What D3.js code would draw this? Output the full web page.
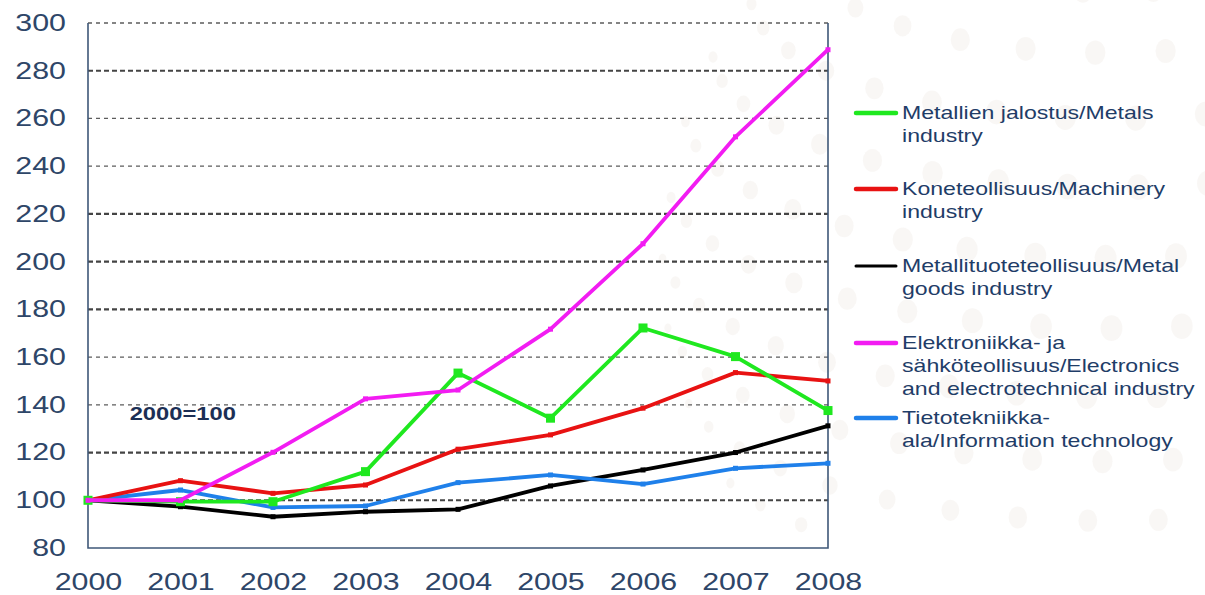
<!DOCTYPE html>
<html>
<head>
<meta charset="utf-8">
<script src="https://cdn.jsdelivr.net/npm/d3@7"></script>
<style>
  html, body { margin: 0; padding: 0; background: #ffffff; }
  svg { display: block; font-family: "Liberation Sans", Arial, sans-serif; }
</style>
</head>
<body>
<svg id="chart" width="1205" height="595"></svg>
<script>
// Production volume index by industry, 2000 = 100
const years = [2000, 2001, 2002, 2003, 2004, 2005, 2006, 2007, 2008];
const yTicks = [80, 100, 120, 140, 160, 180, 200, 220, 240, 260, 280, 300];
const boldGrid = [100, 120, 180, 200, 220, 280];

const metals      = [100, 99.4, 99.4, 112, 153.3, 134.4, 172.2, 160.2, 137.6];
const machinery   = [100, 108.2, 102.9, 106.4, 121.4, 127.4, 138.6, 153.5, 150];
const metalGoods  = [100, 97.3, 93.1, 95.2, 96.2, 106, 112.7, 120, 131.2];
const electronics = [100, 100, 120.1, 142.5, 146.2, 171.7, 207.5, 252.3, 288.8];
const infoTech    = [100, 104.3, 97, 97.6, 107.4, 110.6, 106.8, 113.4, 115.5];

const seriesNames = [
  ["Metallien jalostus/Metals", "industry"],
  ["Koneteollisuus/Machinery", "industry"],
  ["Metallituoteteollisuus/Metal", "goods industry"],
  ["Elektroniikka- ja", "sähköteollisuus/Electronics", "and electrotechnical industry"],
  ["Tietotekniikka-", "ala/Information technology"]
];
const seriesColors = ["#1fe81f", "#e81212", "#000000", "#f21cf2", "#1f80ea"];
const seriesValues = [metals, machinery, metalGoods, electronics, infoTech];
const baseNote = "2000=100";

const svg = d3.select("#chart");
const plot = { left: 88, right: 828, top: 23, bottom: 548 };
const stretch = 1.32; // wide lettering used throughout

// faint dotted-globe watermark behind everything
const globe = d3.geoOrthographic()
  .scale(450)
  .translate([1110, 250])
  .rotate([-30, -20, 0]);
const dots = [];
for (let lat = -80; lat <= 80; lat += 9) {
  const step = 9 / Math.max(0.25, Math.cos(lat * Math.PI / 180));
  for (let lon = -180; lon < 180; lon += step) {
    const r = d3.geoRotation(globe.rotate())([lon, lat]);
    const cosc = Math.cos(r[1] * Math.PI / 180) * Math.cos(r[0] * Math.PI / 180);
    if (cosc <= 0.05) continue;
    const p = globe([lon, lat]);
    if (p && p[1] < 535) dots.push({ x: p[0], y: p[1], s: cosc });
  }
}
svg.append("g")
  .selectAll("ellipse")
  .data(dots)
  .join("ellipse")
  .attr("cx", d => d.x)
  .attr("cy", d => d.y)
  .attr("rx", d => 3 + 8 * d.s)
  .attr("ry", d => 4 + 9 * d.s)
  .attr("fill", "#f1eee8")
  .attr("opacity", 0.45);

const x = d3.scaleLinear().domain([2000, 2008]).range([plot.left, plot.right]);
const y = d3.scaleLinear().domain([80, 300]).range([plot.bottom, plot.top]);

// dashed gridlines
svg.append("g")
  .selectAll("line")
  .data(yTicks.filter(t => t > 80))
  .join("line")
  .attr("x1", plot.left).attr("x2", plot.right)
  .attr("y1", d => y(d)).attr("y2", d => y(d))
  .attr("stroke", d => boldGrid.includes(d) ? "#444444" : "#5c5c5c")
  .attr("stroke-width", d => boldGrid.includes(d) ? 2.2 : 1.3)
  .attr("stroke-dasharray", d => boldGrid.includes(d) ? "5,3" : "4,4");

// frame: left, bottom, right
const frameColor = "#3f5878";
svg.append("path")
  .attr("d", `M${plot.left},${plot.top}V${plot.bottom}H${plot.right}V${plot.top}`)
  .attr("fill", "none")
  .attr("stroke", frameColor)
  .attr("stroke-width", 1.6);

// y axis labels
const yAxis = d3.axisLeft(y).tickValues(yTicks).tickSize(0);
const gy = svg.append("g").attr("transform", `translate(${plot.left},0)`).call(yAxis);
gy.select(".domain").remove();
gy.selectAll("text")
  .attr("x", 0)
  .attr("transform", `translate(-22,0) scale(${stretch},1)`)
  .attr("font-size", 23)
  .attr("fill", "#2e4668")
  .attr("font-family", "Liberation Sans, Arial, sans-serif");

// x axis labels
const xAxis = d3.axisBottom(x).tickValues(years).tickFormat(d3.format("d")).tickSize(0);
const gx = svg.append("g").attr("transform", `translate(0,${plot.bottom})`).call(xAxis);
gx.select(".domain").remove();
gx.selectAll("text")
  .attr("y", 0)
  .attr("transform", `translate(0,26) scale(${stretch},1)`)
  .attr("font-size", 23)
  .attr("fill", "#2e4668")
  .attr("font-family", "Liberation Sans, Arial, sans-serif");

// base-year note
svg.append("text")
  .attr("transform", `translate(${x(2000.45)},${y(140) + 15}) scale(${stretch},1)`)
  .attr("font-size", 18)
  .attr("font-weight", "bold")
  .attr("fill", "#1c2f55")
  .text(baseNote);

// series lines
const line = d3.line().x((d, i) => x(years[i])).y(d => y(d));
const drawOrder = [2, 4, 1, 0, 3];
drawOrder.forEach(k => {
  const g = svg.append("g");
  g.append("path")
    .datum(seriesValues[k])
    .attr("d", line)
    .attr("fill", "none")
    .attr("stroke", seriesColors[k])
    .attr("stroke-width", 3.8)
    .attr("stroke-linejoin", "round");
  g.selectAll("rect")
    .data(seriesValues[k])
    .join("rect")
    .attr("x", (d, i) => x(years[i]) - (k === 0 ? 4.5 : 2.5))
    .attr("y", d => y(d) - (k === 0 ? 4.5 : 2.5))
    .attr("width", k === 0 ? 9 : 5)
    .attr("height", k === 0 ? 9 : 5)
    .attr("fill", seriesColors[k]);
});

// legend
const legendRows = [113, 189, 266, 343, 418];
const legend = svg.append("g");
seriesNames.forEach((lines, k) => {
  const ly = legendRows[k];
  legend.append("line")
    .attr("x1", 856).attr("x2", 896)
    .attr("y1", ly).attr("y2", ly)
    .attr("stroke", seriesColors[k])
    .attr("stroke-width", k === 2 ? 3 : 4.5)
    .attr("stroke-linecap", "round");
  const t = legend.append("text")
    .attr("transform", `translate(902,${ly + 6}) scale(${stretch},1)`)
    .attr("font-size", 17.5)
    .attr("fill", "#1f3d68");
  lines.forEach((s, j) => {
    t.append("tspan").attr("x", 0).attr("dy", j === 0 ? 0 : 23).text(s);
  });
});
</script>
</body>
</html>
